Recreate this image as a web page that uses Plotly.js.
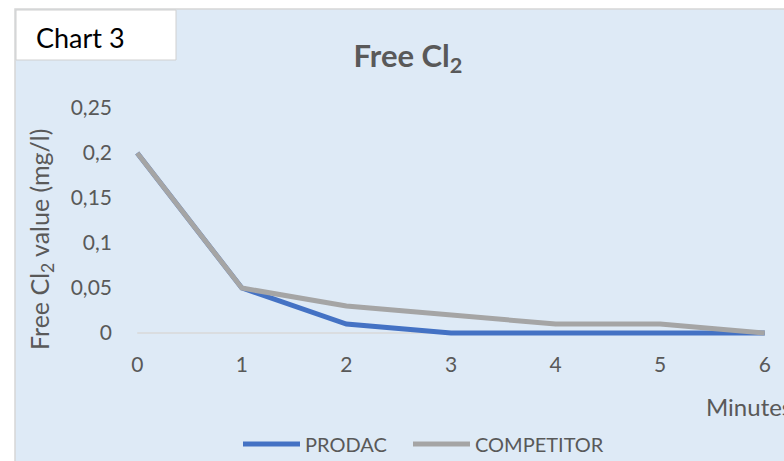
<!DOCTYPE html>
<html><head><meta charset="utf-8">
<script src="https://cdn.plot.ly/plotly-3.0.1.min.js"></script>
<style>html,body{margin:0;padding:0;background:#fff}#c{width:784px;height:461px}</style>
</head><body><div id="c"></div>
<script>
const minutes = [0, 1, 2, 3, 4, 5, 6];
const prodac = [0.2, 0.05, 0.01, 0, 0, 0, 0];
const competitor = [0.2, 0.05, 0.03, 0.02, 0.01, 0.01, 0];
const seriesNames = ['PRODAC', 'COMPETITOR'];
const yTicks = [0, 0.05, 0.1, 0.15, 0.2, 0.25];

const W = 784, H = 461, L = 132, R = 14, T = 99, B = 119;
const pw = W - L - R, ph = H - T - B;
const px = x => (x - L) / pw;
const py = y => (H - B - y) / ph;
const FONT = 'Lato, "Open Sans", sans-serif';
const GREY = '#595959';

const traces = [
  {x: minutes, y: prodac, name: seriesNames[0], mode: 'lines', line: {color: '#4472c4', width: 5}, legend: 'legend'},
  {x: minutes, y: competitor, name: seriesNames[1], mode: 'lines', line: {color: '#a5a5a5', width: 5}, legend: 'legend2'}
];

const legendBase = {orientation: 'h', xref: 'container', yref: 'container', xanchor: 'left',
  y: 1 - 444 / H, yanchor: 'middle', bgcolor: 'rgba(0,0,0,0)', font: {size: 20, color: GREY}, itemwidth: 57};

const layout = {
  width: W, height: H,
  margin: {l: L, r: R, t: T, b: B},
  paper_bgcolor: '#ffffff', plot_bgcolor: 'rgba(0,0,0,0)',
  separators: ', ',
  font: {family: FONT, color: GREY, size: 18},
  showlegend: true,
  title: {text: '<b>Free Cl<sub>2</sub></b>', font: {family: FONT, size: 31, color: GREY},
          x: 408 / W, xref: 'container', xanchor: 'center', y: 1 - 56 / H, yref: 'container', yanchor: 'middle'},
  xaxis: {range: [-0.05, 6.05], tickvals: minutes, showgrid: false, zeroline: false, showline: false,
          ticks: '', ticklabelstandoff: 8, tickfont: {size: 21, color: GREY}, fixedrange: true},
  yaxis: {range: [-0.01, 0.26], tickvals: yTicks, showgrid: false, zeroline: false, showline: false,
          ticks: '', tickfont: {size: 21, color: GREY}, ticklabelstandoff: 19},
  legend: Object.assign({}, legendBase, {x: 238 / W}),
  legend2: Object.assign({}, legendBase, {x: 408 / W}),
  shapes: [
    {type: 'rect', xref: 'paper', yref: 'paper', x0: px(15), x1: px(790), y0: py(470), y1: py(9),
     fillcolor: '#deeaf6', line: {color: '#d6d6d6', width: 1.5}, layer: 'below'},
    {type: 'rect', xref: 'paper', yref: 'paper', x0: px(16), x1: px(176), y0: py(60), y1: py(10),
     fillcolor: '#ffffff', line: {color: '#d0d0d0', width: 1}, layer: 'below'},
    {type: 'line', xref: 'x', yref: 'y', x0: 0, x1: 6, y0: 0, y1: 0,
     line: {color: '#d9d9d9', width: 1.5}, layer: 'below'}
  ],
  annotations: [
    {text: 'Chart 3', xref: 'paper', yref: 'paper', x: px(34), y: py(38), xanchor: 'left', yanchor: 'middle',
     showarrow: false, font: {family: FONT, size: 27, color: '#000000'}},
    {text: 'Free Cl<sub>2</sub> value (mg/l)', xref: 'paper', yref: 'paper', x: px(41), y: py(240),
     xanchor: 'center', yanchor: 'middle', textangle: -90,
     showarrow: false, font: {family: FONT, size: 25, color: GREY}},
    {text: 'Minutes', xref: 'paper', yref: 'paper', x: px(704), y: py(406), xanchor: 'left', yanchor: 'middle',
     showarrow: false, font: {family: FONT, size: 24, color: GREY}}
  ]
};

Plotly.newPlot('c', traces, layout, {displayModeBar: false, staticPlot: true});
</script></body></html>
